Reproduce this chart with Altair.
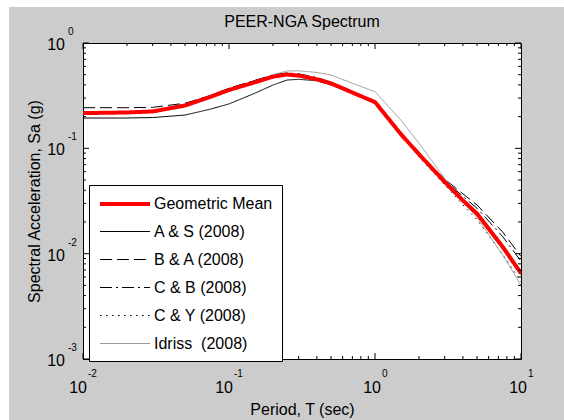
import altair as alt
import pandas as pd

# ---------------- data ----------------
periods = [0.01, 0.02, 0.03, 0.05, 0.075, 0.1, 0.15, 0.2, 0.25, 0.3, 0.4,
           0.5, 0.75, 1.0, 1.5, 2.0, 3.0, 4.0, 5.0, 7.5, 10.0]

series_names = ["Geometric Mean", "A & S (2008)", "B & A (2008)",
                "C & B (2008)", "C & Y (2008)", "Idriss\u00a0 (2008)"]

geo_mean = [0.216, 0.219, 0.224, 0.255, 0.309, 0.358, 0.423, 0.479, 0.502, 0.490, 0.452,
            0.414, 0.325, 0.275, 0.137, 0.088, 0.048, 0.032, 0.024, 0.0116, 0.0065]
as08 = [0.194, 0.194, 0.196, 0.207, 0.236, 0.264, 0.333, 0.399, 0.445, 0.452, 0.438,
        0.399, 0.321, 0.270, 0.135, 0.086, 0.047, 0.031, 0.023, 0.0110, 0.0063]
ba08 = [0.243, 0.243, 0.245, 0.268, 0.318, 0.372, 0.440, 0.490, 0.500, 0.485, 0.445,
        0.405, 0.320, 0.265, 0.133, 0.088, 0.051, 0.037, 0.029, 0.0160, 0.0094]
cb08 = [0.218, 0.221, 0.228, 0.262, 0.318, 0.370, 0.440, 0.500, 0.520, 0.510, 0.470,
        0.425, 0.335, 0.275, 0.136, 0.088, 0.050, 0.035, 0.027, 0.0145, 0.0085]
cy08 = [0.213, 0.216, 0.222, 0.255, 0.310, 0.360, 0.430, 0.490, 0.510, 0.500, 0.460,
        0.420, 0.330, 0.272, 0.133, 0.083, 0.045, 0.029, 0.021, 0.0098, 0.0054]
id08 = [0.214, 0.216, 0.220, 0.250, 0.300, 0.350, 0.420, 0.500, 0.542, 0.545, 0.525,
        0.497, 0.400, 0.345, 0.186, 0.112, 0.052, 0.031, 0.022, 0.0097, 0.0050]

x_decades = [0.01, 0.1, 1.0, 10.0]
x_exponents = ["-2", "-1", "0", "1"]
y_decades = [0.001, 0.01, 0.1, 1.0]
y_exponents = ["-3", "-2", "-1", "0"]
minor_multipliers = [2, 3, 4, 5, 6, 7, 8, 9]

title_text = "PEER-NGA Spectrum"
x_title = "Period, T (sec)"
y_title = "Spectral Acceleration, Sa (g)"

# ---------------- tables ----------------
rows = []
for name, vals in zip(series_names, [geo_mean, as08, ba08, cb08, cy08, id08]):
    for t, v in zip(periods, vals):
        rows.append({"series": name, "T": t, "Sa": v})
df = pd.DataFrame(rows)

x_minor = [m * d for d in x_decades[:-1] for m in minor_multipliers]
y_minor = [m * d for d in y_decades[:-1] for m in minor_multipliers]
xmaj_df = pd.DataFrame({"v": x_decades})
xmin_df = pd.DataFrame({"v": x_minor})
ymaj_df = pd.DataFrame({"v": y_decades})
ymin_df = pd.DataFrame({"v": y_minor})
xlab_df = pd.DataFrame({"v": x_decades, "e": x_exponents})
xlab_neg = xlab_df[xlab_df["e"].str.startswith("-")]
xlab_pos = xlab_df[~xlab_df["e"].str.startswith("-")]
ylab_df = pd.DataFrame({"v": y_decades, "e": y_exponents})
one = pd.DataFrame({"z": [0]})

# ---------------- styling ----------------
W, H = 438, 316
FONT = "Liberation Sans"
FS = 16
EFS = 10

colors = ["#ff0000", "#000000", "#000000", "#000000", "#000000", "#9a9a9a"]
dashes = [[1, 0], [1, 0], [12, 5], [12, 4, 2, 4], [1.5, 4.5], [1, 0]]
widths = [4, 1, 1, 1, 1, 1]

xscale = alt.Scale(type="log", domain=[0.01, 10], nice=False)
yscale = alt.Scale(type="log", domain=[0.001, 1], nice=False)

xaxis = alt.Axis(title=x_title, labels=False, ticks=False, domain=False, grid=False,
                 titlePadding=42, titleFont=FONT, titleFontSize=FS,
                 titleFontWeight="normal", titleColor="black")
yaxis = alt.Axis(title=y_title, labels=False, ticks=False, domain=False, grid=False,
                 titlePadding=41, titleFont=FONT, titleFontSize=FS,
                 titleFontWeight="normal", titleColor="black")

legend = alt.Legend(title=None, orient="none", legendX=6, legendY=142,
                    fillColor="white", strokeColor="black", padding=9,
                    symbolType="M-1,0H5.25", symbolSize=256,
                    labelFont=FONT, labelFontSize=FS, labelColor="black",
                    labelOffset=36, rowPadding=11, cornerRadius=0)

enc = dict(
    x=alt.X("T:Q", scale=xscale, axis=xaxis),
    y=alt.Y("Sa:Q", scale=yscale, axis=yaxis),
    color=alt.Color("series:N", scale=alt.Scale(domain=series_names, range=colors), legend=legend),
    strokeDash=alt.StrokeDash("series:N", scale=alt.Scale(domain=series_names, range=dashes), legend=legend),
    strokeWidth=alt.StrokeWidth("series:N", scale=alt.Scale(type="ordinal", domain=series_names, range=widths), legend=legend),
)

base = alt.Chart(df)
others = base.transform_filter(alt.datum.series != series_names[0]).mark_line(clip=True).encode(**enc)
gm = base.transform_filter(alt.datum.series == series_names[0]).mark_line(clip=True).encode(**enc)

X = lambda: alt.X("v:Q", scale=xscale, axis=xaxis)
Y = lambda: alt.Y("v:Q", scale=yscale, axis=yaxis)

def xticks(d, ln):
    b = alt.Chart(d).mark_rule(color="black", strokeWidth=1)
    return (b.encode(x=X(), y=alt.value(H), y2=alt.value(H - ln)) +
            b.encode(x=X(), y=alt.value(0), y2=alt.value(ln)))

def yticks(d, ln):
    b = alt.Chart(d).mark_rule(color="black", strokeWidth=1)
    return (b.encode(y=Y(), x=alt.value(0), x2=alt.value(ln)) +
            b.encode(y=Y(), x=alt.value(W), x2=alt.value(W - ln)))

ticks = xticks(xmin_df, 3) + xticks(xmaj_df, 6) + yticks(ymin_df, 3) + yticks(ymaj_df, 6)

def xlabels(d, shift):
    ten = alt.Chart(d).mark_text(text="10", align="right", baseline="alphabetic", dx=shift,
                                 font=FONT, fontSize=FS, color="black").encode(
        x=X(), y=alt.value(H + 34))
    ex = alt.Chart(d).mark_text(align="left", baseline="alphabetic", dx=shift + 1,
                                font=FONT, fontSize=EFS, color="black").encode(
        x=X(), y=alt.value(H + 18), text="e:N")
    return ten + ex

ylab_ten = alt.Chart(ylab_df).mark_text(text="10", align="right", baseline="alphabetic", dy=7,
                                        font=FONT, fontSize=FS, color="black").encode(
    y=Y(), x=alt.value(-18))
ylab_exp = alt.Chart(ylab_df).mark_text(align="left", baseline="alphabetic", dy=-8,
                                        font=FONT, fontSize=EFS, color="black").encode(
    y=Y(), x=alt.value(-15), text="e:N")

title = alt.Chart(one).mark_text(text=title_text, align="center", baseline="alphabetic",
                                 font=FONT, fontSize=FS, color="black").encode(
    x=alt.value(W / 2), y=alt.value(-16))

strips = (alt.Chart(one).mark_rect(color="white").encode(
              x=alt.value(-83), x2=alt.value(-74), y=alt.value(-43), y2=alt.value(377)) +
          alt.Chart(one).mark_rect(color="white").encode(
              x=alt.value(-83), x2=alt.value(481), y=alt.value(-43), y2=alt.value(-36)))

chart = alt.layer(
    strips, others, gm, ticks,
    xlabels(xlab_neg, 4), xlabels(xlab_pos, 6), ylab_ten, ylab_exp, title,
).properties(
    width=W, height=H,
    padding={"left": 83, "top": 43, "right": 43, "bottom": 61},
    autosize=alt.AutoSizeParams(type="none"),
    background="#cccccc",
).configure_view(stroke="black", strokeWidth=1, fill="white")

chart.save("out.html", embed_options={"renderer": "svg", "actions": False})
